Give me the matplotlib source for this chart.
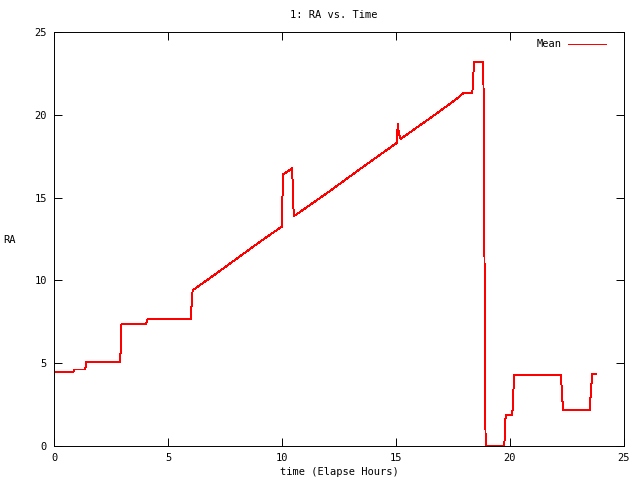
import matplotlib
matplotlib.use("Agg")
import matplotlib.pyplot as plt

# Data (elapsed hours, RA)
time_h = [0.0, 0.85, 0.88, 1.37, 1.41, 2.90, 2.93, 2.96, 4.04, 4.10, 6.00, 6.03, 6.08,
          7.0, 8.0, 9.0, 9.99, 10.01, 10.05, 10.45, 10.48, 10.52, 10.6,
          12.0, 13.5, 15.03, 15.08, 15.12, 15.2, 16.5, 17.6, 17.95, 18.35, 18.38, 18.44,
          18.83, 18.86, 18.90, 18.93, 19.75, 19.78, 19.81, 20.10, 20.14, 20.18,
          22.24, 22.28, 22.34, 23.50, 23.55, 23.61, 23.76]
ra = [4.45, 4.45, 4.62, 4.62, 5.07, 5.07, 6.0, 7.35, 7.38, 7.65, 7.65, 8.4, 9.4,
      10.3, 11.3, 12.3, 13.25, 14.5, 16.4, 16.77, 15.0, 13.9, 13.95,
      15.3, 16.8, 18.3, 19.45, 18.9, 18.54, 19.8, 20.9, 21.3, 21.3, 22.3, 23.2,
      23.2, 17.5, 5.9, 0.0, 0.0, 1.0, 1.87, 1.87, 3.0, 4.29,
      4.29, 3.0, 2.15, 2.15, 3.4, 4.35, 4.35]

series_label = "Mean"
title = "1: RA vs. Time"
x_ticks = [0, 5, 10, 15, 20, 25]
y_ticks = [0, 5, 10, 15, 20, 25]

plt.rcParams['font.family'] = ['DejaVu Sans Mono']
fs = 7.5

fig = plt.figure(figsize=(6.4, 4.8), dpi=100)
ax = fig.add_axes([54/640, 34/480, 570/640, 414/480])
ax.plot(time_h, ra, color='#ff0000', lw=0.7, label=series_label, antialiased=False)
ax.set_xlim(0, 25)
ax.set_ylim(0, 25)
ax.set_xticks(x_ticks)
ax.set_yticks(y_ticks)
ax.tick_params(direction='in', length=6, width=0.7, top=True, right=True,
               labelsize=fs, pad=5)
for s in ax.spines.values():
    s.set_linewidth(0.7)
ax.set_xlabel("time (Elapse Hours)", fontsize=fs, labelpad=3)
fig.text(10/640, 1 - 240/480, "RA", fontsize=fs, ha='center', va='center')
fig.text(334/640, 1 - 15/480, title, fontsize=fs, ha='center', va='center')
leg = ax.legend(loc='upper right', frameon=False, fontsize=fs, markerfirst=False,
                handlelength=3.6, handletextpad=0.6, borderaxespad=0.0,
                bbox_to_anchor=(1 - 14/570, 1 - 3/414))
for h in leg.get_lines():
    h.set_antialiased(False)
    h.set_linewidth(0.7)
fig.savefig("out.png", dpi=100)
